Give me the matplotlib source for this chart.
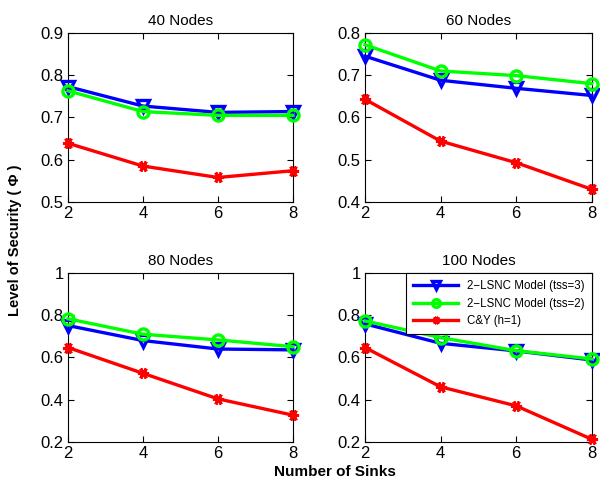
import numpy as np
import matplotlib
matplotlib.use('Agg')
import matplotlib.pyplot as plt

## Data
sinks = [2, 4, 6, 8]
titles = ['40 Nodes', '60 Nodes', '80 Nodes', '100 Nodes']

tss3 = [[0.773, 0.727, 0.712, 0.714],
        [0.745, 0.688, 0.669, 0.652],
        [0.751, 0.680, 0.640, 0.636],
        [0.759, 0.667, 0.631, 0.588]]
tss2 = [[0.763, 0.714, 0.705, 0.705],
        [0.772, 0.710, 0.699, 0.680],
        [0.783, 0.710, 0.683, 0.651],
        [0.773, 0.694, 0.632, 0.593]]
cy = [[0.639, 0.585, 0.558, 0.574],
      [0.643, 0.544, 0.493, 0.430],
      [0.647, 0.525, 0.404, 0.327],
      [0.647, 0.461, 0.371, 0.213]]

ylims = [(0.5, 0.9), (0.4, 0.8), (0.2, 1.0), (0.2, 1.0)]
yticks = [[0.5, 0.6, 0.7, 0.8, 0.9],
          [0.4, 0.5, 0.6, 0.7, 0.8],
          [0.2, 0.4, 0.6, 0.8, 1.0],
          [0.2, 0.4, 0.6, 0.8, 1.0]]
ytlabels = [['0.5', '0.6', '0.7', '0.8', '0.9'],
            ['0.4', '0.5', '0.6', '0.7', '0.8'],
            ['0.2', '0.4', '0.6', '0.8', '1'],
            ['0.2', '0.4', '0.6', '0.8', '1']]

plt.rcParams['font.family'] = ['Liberation Sans', 'DejaVu Sans']

fig = plt.figure(figsize=(6, 4.83), dpi=100)
positions = [[0.1133, 0.5818, 0.375, 0.35],
             [0.6083, 0.5818, 0.378, 0.35],
             [0.1133, 0.0849, 0.375, 0.35],
             [0.6083, 0.0849, 0.378, 0.35]]

for i in range(4):
    ax = fig.add_axes(positions[i])
    ax.plot(sinks, tss3[i], color='#0000ff', lw=2.4, marker='v', ms=9,
            mfc='none', mew=2.4, label='2\u2212LSNC Model (tss=3)', clip_on=False, zorder=3)
    ax.plot(sinks, tss2[i], color='#00ff00', lw=2.4, marker='o', ms=8,
            mfc='none', mew=2.4, label='2\u2212LSNC Model (tss=2)', clip_on=False, zorder=4)
    ax.plot(sinks, cy[i], color='#ff0000', lw=2.4, marker=(6, 2, 90), ms=8,
            mew=2.2, label='C&Y (h=1)', clip_on=False, zorder=3)
    ax.set_xlim(2, 8)
    ax.set_ylim(*ylims[i])
    ax.set_xticks(sinks)
    ax.set_yticks(yticks[i])
    ax.set_yticklabels(ytlabels[i])
    ax.tick_params(direction='in', top=True, right=True, labelsize=12, length=4, pad=3)
    ax.set_title(titles[i], fontsize=11, pad=6)
    if i == 3:
        leg = ax.legend(loc='upper right', fontsize=8.3, fancybox=False, framealpha=1,
                        edgecolor='black', borderaxespad=0, handlelength=3.9,
                        borderpad=0.6, labelspacing=0.5, markerscale=0.7)
        leg.get_frame().set_linewidth(0.8)

fig.text(0.025, 0.503, 'Level of Security ( \u03a6 )', rotation=90, fontsize=10.5,
         fontweight='bold', ha='center', va='center')
fig.text(0.558, 0.022, 'Number of Sinks', fontsize=11, fontweight='bold',
         ha='center', va='center')

plt.savefig('out.png', dpi=100)
